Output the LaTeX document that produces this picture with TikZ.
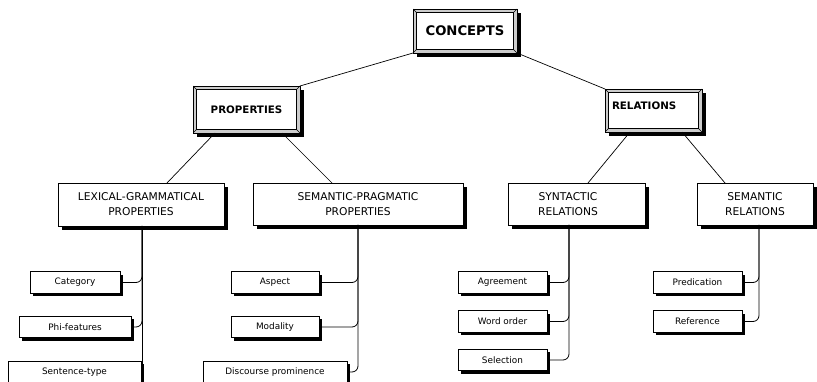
\documentclass[tikz,border=0pt]{standalone}
\usepackage{fontspec}
\setmainfont{DejaVu Sans}
\usetikzlibrary{shadows}
\begin{document}
\begin{tikzpicture}[x=1pt,y=-1pt,
  every node/.style={inner sep=0pt, outer sep=0pt},
  bevelbox/.style={draw=black, line width=0.8pt, fill=gray!40,
    drop shadow={shadow xshift=4pt, shadow yshift=-4pt, fill=black, opacity=1},
    path picture={
      \draw[fill=white, line width=0.5pt] ([shift={(3.5pt,-3.5pt)}]path picture bounding box.north west) rectangle ([shift={(-3.5pt,3.5pt)}]path picture bounding box.south east);
      \draw[line width=0.5pt] (path picture bounding box.north west) -- ++(3.5pt,-3.5pt)
        (path picture bounding box.north east) -- ++(-3.5pt,-3.5pt)
        (path picture bounding box.south west) -- ++(3.5pt,3.5pt)
        (path picture bounding box.south east) -- ++(-3.5pt,3.5pt);
    }},
  bevtext/.style={font=\bfseries\fontsize{10.3}{12}\selectfont},
  headbox/.style={draw, line width=0.8pt, fill=white,
    drop shadow={shadow xshift=4pt, shadow yshift=-4pt, fill=black, opacity=1},
    align=center, font=\fontsize{10.7}{15}\selectfont},
  headtext/.style={align=center, font=\fontsize{10.7}{15}\selectfont},
  leafbox/.style={draw, line width=0.7pt, fill=white,
    drop shadow={shadow xshift=3pt, shadow yshift=-3pt, fill=black, opacity=1},
    minimum height=21.5pt, font=\fontsize{8.9}{10}\selectfont},
  link/.style={line width=0.7pt},
  branch/.style={line width=0.8pt, rounded corners=6pt}
]
\useasboundingbox (0,0) rectangle (817,382);
\clip (0,0) rectangle (817,382);

% top level
\node[bevelbox, minimum width=104pt, minimum height=44pt, font=\bfseries\fontsize{13.2}{15}\selectfont] (concepts) at (465,31) {CONCEPTS};
\node[bevelbox, bevtext, minimum width=107pt, minimum height=47pt] (props) at (246.5,109.5) {PROPERTIES};
\node[bevelbox, minimum width=97pt, minimum height=43pt] (rel) at (653.5,110.5) {};
\node[bevtext, anchor=west] (reltext) at (612,106) {RELATIONS};

% second level
\node[headbox, minimum width=166pt, minimum height=43pt] (lg) at (141,204.5) {LEXICAL-GRAMMATICAL\\PROPERTIES};
\node[headbox, minimum width=210pt, minimum height=42pt] (sp) at (358,204) {SEMANTIC-PRAGMATIC\\PROPERTIES};
\node[headbox, minimum width=137pt, minimum height=42pt] (syn) at (576.5,204) {};
\node[headtext] (syntext) at (568,204) {SYNTACTIC\\RELATIONS};
\node[headbox, minimum width=116pt, minimum height=42pt] (sem) at (755,204) {SEMANTIC\\RELATIONS};

% leaves
\node[leafbox, minimum width=90pt] (cat) at (75,282.5) {Category};
\node[leafbox, minimum width=112pt] (phi) at (75,327) {Phi-features};
\node[leafbox, minimum width=133pt] (st) at (74.5,372) {Sentence-type};

\node[leafbox, minimum width=88pt] (asp) at (275,282.5) {Aspect};
\node[leafbox, minimum width=88pt] (mod) at (275,327) {Modality};
\node[leafbox, minimum width=144pt] (dp) at (275,372) {Discourse prominence};

\node[leafbox, minimum width=89pt] (agr) at (502.5,282.5) {Agreement};
\node[leafbox, minimum width=89pt] (wo) at (502.5,321.5) {Word order};
\node[leafbox, minimum width=89pt] (sel) at (502.5,360) {Selection};

\node[leafbox, minimum width=89pt] (pred) at (697.5,282.5) {Predication};
\node[leafbox, minimum width=89pt] (ref) at (697.5,321.5) {Reference};

% links between levels
\draw[link] (concepts.south west) -- (props.north east);
\draw[link] (concepts.south east) -- (rel.north west);
\draw[link] ([xshift=-31.5pt]props.south) -- ([xshift=26pt]lg.north);
\draw[link] ([xshift=35.5pt]props.south) -- ([xshift=-26pt]sp.north);
\draw[link] ([xshift=-23.5pt]rel.south) -- ([xshift=11.5pt]syn.north);
\draw[link] ([xshift=28.5pt]rel.south) -- ([xshift=-30pt]sem.north);

% branch lines
\coordinate (lgv) at ([xshift=1pt]lg.south);
\coordinate (spv) at (sp.south);
\coordinate (synv) at ([xshift=-7.5pt]syn.south);
\coordinate (semv) at ([xshift=4pt]sem.south);

\draw[branch] (lgv) |- (cat.east);
\draw[branch] (lgv) |- (phi.east);
\draw[branch] (lgv) -- (lgv |- st.south);

\draw[branch] (spv) |- (asp.east);
\draw[branch] (spv) |- (mod.east);
\draw[branch] (spv) |- (dp.east);

\draw[branch] (synv) |- (agr.east);
\draw[branch] (synv) |- (wo.east);
\draw[branch] (synv) |- (sel.east);

\draw[branch] (semv) |- (pred.east);
\draw[branch] (semv) |- (ref.east);
\end{tikzpicture}
\end{document}
